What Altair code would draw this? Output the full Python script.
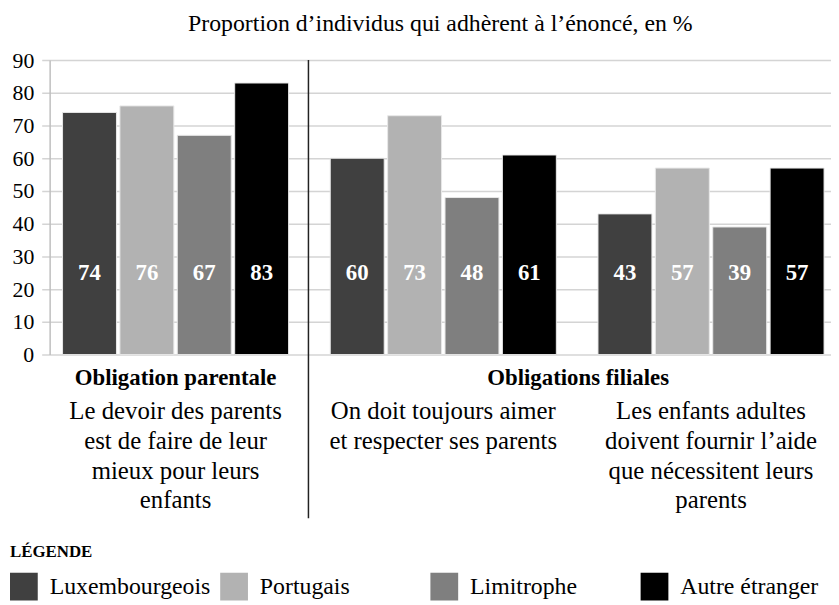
import altair as alt
import pandas as pd

# ---- data ----
group_ids = ["g1", "g2", "g3"]
statements = [
    "Le devoir des parents\nest de faire de leur\nmieux pour leurs\nenfants",
    "On doit toujours aimer\net respecter ses parents",
    "Les enfants adultes\ndoivent fournir l’aide\nque nécessitent leurs\nparents",
]
series = ["Luxembourgeois", "Portugais", "Limitrophe", "Autre étranger"]
val_lux = [74, 60, 43]
val_por = [76, 73, 57]
val_lim = [67, 48, 39]
val_aut = [83, 61, 57]
y_ticks = [0, 10, 20, 30, 40, 50, 60, 70, 80, 90]
header_1 = "Obligation parentale"
header_2 = "Obligations filiales"
title_text = "Proportion d’individus qui adhèrent à l’énoncé, en %"

colors = ["#404040", "#b2b2b2", "#7f7f7f", "#000000"]
FONT = "Liberation Serif"

rows = []
for s, vals in zip(series, [val_lux, val_por, val_lim, val_aut]):
    for g, v in zip(group_ids, vals):
        rows.append({"group": g, "series": s, "value": v})
df = pd.DataFrame(rows)
df_stat = pd.DataFrame({"group": group_ids, "statement": statements})

xscale = alt.Scale(domain=group_ids, range=[-8, 802], paddingInner=0.1556, paddingOuter=0.0778)
X = alt.X("group:N", scale=xscale, axis=None, sort=group_ids)
XO = alt.XOffset("series:N", sort=series, scale=alt.Scale(domain=series, paddingInner=0.06))

yaxis = alt.Axis(values=y_ticks, title=None, grid=True, labelOverlap=False,
                 labelFlush=False, gridColor="#d4d4d4", gridWidth=1.5,
                 domainColor="#bfbfbf", domainWidth=1.5, ticks=False,
                 labelPadding=16, labelFont=FONT, labelFontSize=22,
                 labelColor="black")

bars = alt.Chart(df).mark_bar(stroke="#e8e8e8", strokeWidth=1).encode(
    x=X,
    xOffset=XO,
    y=alt.Y("value:Q", scale=alt.Scale(domain=[0, 90], nice=False), axis=yaxis),
    color=alt.Color(
        "series:N", sort=series,
        scale=alt.Scale(domain=series, range=colors),
        legend=alt.Legend(
            orient="none", legendX=-40, legendY=488, direction="horizontal",
            columns=4, gridAlign="all", columnPadding=9,
            symbolType="square", symbolSize=784, symbolStrokeWidth=0, symbolOpacity=1,
            labelFont=FONT, labelFontSize=24, labelColor="black", labelOffset=12, labelLimit=300,
            title="LÉGENDE", titleFont=FONT, titleFontSize=17, titleFontWeight="bold",
            titleColor="black", titlePadding=12,
        ),
    ),
)

bar_labels = alt.Chart(df).mark_text(
    color="white", font=FONT, fontSize=23, fontWeight="bold", baseline="middle"
).encode(x=X, xOffset=XO, y=alt.YDatum(25, axis=yaxis), text="value:Q")

stat_text = alt.Chart(df_stat).mark_text(
    font=FONT, fontSize=25, lineBreak="\n", lineHeight=30, baseline="top", color="black"
).encode(x=X, y=alt.value(342), text="statement:N")

h1 = alt.Chart(pd.DataFrame({"t": [header_1]})).mark_text(
    font=FONT, fontSize=23, fontWeight="bold", baseline="middle", color="black"
).encode(x=alt.datum("g1"), y=alt.value(321), text="t:N")

h2 = alt.Chart(pd.DataFrame({"t": [header_2]})).mark_text(
    font=FONT, fontSize=23, fontWeight="bold", baseline="middle", color="black"
).encode(x=alt.value(533), y=alt.value(321), text="t:N")

sep = alt.Chart(pd.DataFrame({"a": [0]})).mark_rule(color="#222222", strokeWidth=1.5).encode(
    x=alt.value(261), y=alt.value(0), y2=alt.value(462)
)

chart = alt.layer(bars, bar_labels, stat_text, h1, h2, sep).properties(
    width=788, height=297,
    autosize=alt.AutoSizeParams(type="none"),
    padding={"left": 42, "top": 50, "right": 0, "bottom": 250},
    title=alt.Title(title_text, font=FONT, fontSize=24, fontWeight="normal",
                    anchor="middle", offset=13, color="black"),
).configure_view(stroke=None).configure_axisY(
    grid=True, gridColor="#d4d4d4", gridWidth=1.5, ticks=False,
    labelFont=FONT, labelFontSize=22, labelColor="black", labelPadding=16,
    domainColor="#bfbfbf", domainWidth=1.5,
)

chart.save("out.html", embed_options={"renderer": "svg", "actions": False})
